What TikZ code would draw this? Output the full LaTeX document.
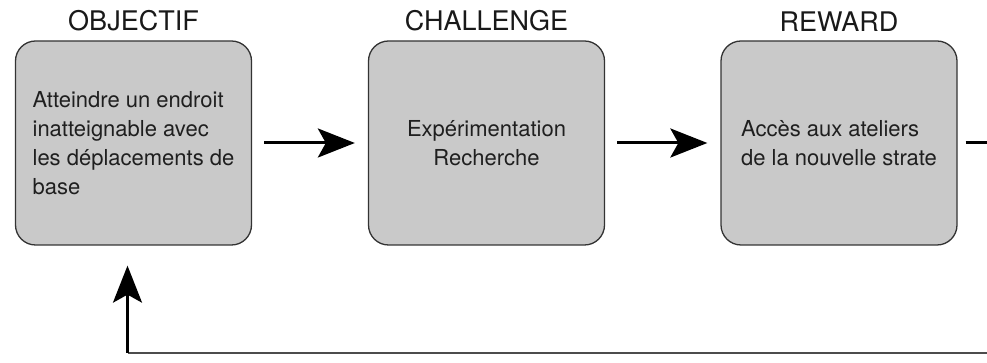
\documentclass[tikz,border=0pt]{standalone}
\usepackage{fontspec}
\setmainfont{TeX Gyre Heros}
\usetikzlibrary{arrows.meta, positioning}

\begin{document}
\begin{tikzpicture}[x=1pt, y=1pt,
    stage/.style={draw=black!80, line width=1.3pt, rounded corners=20pt,
                  fill=black!21, minimum width=236pt, minimum height=204pt,
                  text=black!88, font=\fontsize{22}{29}\selectfont},
    heading/.style={inner sep=0pt, text=black!90, font=\fontsize{27}{30}\selectfont},
    flow/.style={-{Stealth[length=37pt, width=29pt, inset=8pt]}, line width=3pt},
    loopline/.style={line width=2pt, draw=black!70}
  ]
    \useasboundingbox (0,0) rectangle (987,363);
    \clip (0,0) rectangle (987,363);

    \node[stage, align=left]   (objectif)  at (133.5,220) {Atteindre un endroit\\inatteignable avec\\les déplacements de\\base};
    \node[stage, align=center] (challenge) at (486.5,220) {Expérimentation\\Recherche};
    \node[stage, align=left]   (reward)    at (839,220)   {Accès aux ateliers\\de la nouvelle strate};

    \node[heading, above=9pt of objectif]  {OBJECTIF};
    \node[heading, above=9pt of challenge] {CHALLENGE};
    \node[heading, above=9pt of reward]    {REWARD};

    \draw[flow, shorten <=12pt, shorten >=13pt] (objectif) -- (challenge);
    \draw[flow, shorten <=12pt, shorten >=13pt] (challenge) -- (reward);

    % retour vers l'objectif
    \coordinate (loopR) at (1010,220);
    \coordinate (loopB) at (1010,10);
    \coordinate (loopL) at (127.5,10);
    \draw[line width=3pt, shorten <=8pt] (reward) -- (loopR);
    \draw[loopline] (loopB) -- (loopL);
    \draw[flow, line width=2.6pt, shorten >=20pt] (loopL) -- (loopL |- objectif.south);
  \end{tikzpicture}
\end{document}
